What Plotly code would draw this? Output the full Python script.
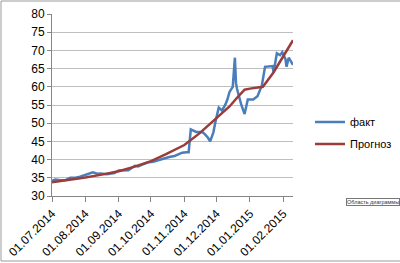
import plotly.graph_objects as go

fact_dates = [
    "2014-07-01", "2014-07-04", "2014-07-09", "2014-07-14", "2014-07-18", "2014-07-23",
    "2014-07-27", "2014-07-31", "2014-08-04", "2014-08-08", "2014-08-12", "2014-08-15",
    "2014-08-21", "2014-08-28", "2014-09-01", "2014-09-05", "2014-09-10", "2014-09-16",
    "2014-09-19", "2014-09-23", "2014-09-29", "2014-10-03", "2014-10-07", "2014-10-11",
    "2014-10-15", "2014-10-18", "2014-10-23", "2014-10-27", "2014-10-30", "2014-11-03",
    "2014-11-05", "2014-11-07", "2014-11-09", "2014-11-12", "2014-11-15", "2014-11-18",
    "2014-11-20", "2014-11-23", "2014-11-25", "2014-11-28", "2014-11-30", "2014-12-03",
    "2014-12-06", "2014-12-09", "2014-12-11", "2014-12-13", "2014-12-16", "2014-12-18",
    "2014-12-19", "2014-12-20", "2014-12-24", "2014-12-27", "2014-12-30", "2015-01-04",
    "2015-01-08", "2015-01-12", "2015-01-15", "2015-01-20", "2015-01-22", "2015-01-23",
    "2015-01-26", "2015-01-29", "2015-01-31", "2015-02-03", "2015-02-04", "2015-02-06",
    "2015-02-08", "2015-02-10",
]
fact_values = [
    34.2, 34.5, 34.3, 34.4, 35.0, 35.0,
    35.3, 35.7, 35.9, 36.5, 36.1, 36.2,
    36.0, 36.3, 37.0, 37.0, 37.1, 38.3,
    38.1, 38.6, 39.3, 39.4, 39.8, 40.1,
    40.4, 40.7, 41.0, 41.4, 41.9, 42.0,
    42.0, 48.3, 48.0, 47.6, 47.6, 47.5,
    47.0, 46.0, 45.0, 47.5, 50.5, 54.3,
    53.5, 55.0, 56.5, 58.6, 60.0, 68.0,
    61.0, 59.4, 55.0, 52.5, 56.5, 56.5,
    57.4, 60.3, 65.5, 65.5, 65.7, 64.0,
    69.2, 68.7, 69.5, 67.6, 65.5, 68.0,
    67.0, 66.0,
]

forecast_dates = [
    "2014-07-01", "2014-07-15", "2014-08-01", "2014-08-15", "2014-09-01", "2014-09-15",
    "2014-10-01", "2014-10-15", "2014-11-01", "2014-11-15", "2014-12-01", "2014-12-13",
    "2014-12-20", "2014-12-27", "2015-01-01", "2015-01-13", "2015-01-23", "2015-02-01",
    "2015-02-10",
]
forecast_values = [
    33.8, 34.3, 35.1, 35.8, 36.8, 38.0,
    39.6, 41.5, 44.0, 47.2, 51.3, 54.6,
    57.0, 59.2, 59.5, 60.0, 64.0, 68.6,
    72.8,
]

tick_dates = ["2014-07-01", "2014-08-01", "2014-09-01", "2014-10-01",
              "2014-11-01", "2014-12-01", "2015-01-01", "2015-02-01"]
tick_labels = ["01.07.2014", "01.08.2014", "01.09.2014", "01.10.2014",
               "01.11.2014", "01.12.2014", "01.01.2015", "01.02.2015"]

FONT = "Liberation Sans"

fig = go.Figure()
fig.add_trace(go.Scatter(x=fact_dates, y=fact_values, mode="lines", name="факт",
                         line=dict(color="#4A7EBB", width=2.5), legend="legend"))
fig.add_trace(go.Scatter(x=forecast_dates, y=forecast_values, mode="lines", name="Прогноз",
                         line=dict(color="#9B3C3A", width=2.5), legend="legend2"))

# plot area pixel geometry helpers (for paper coords)
L, R, T, B = 52, 293, 14, 196
W, H = R - L, B - T


def px(x):
    return (x - L) / W


def py(y):
    return (B - y) / H


legend_style = dict(xanchor="left", yanchor="middle", bgcolor="rgba(0,0,0,0)",
                    font=dict(family=FONT, size=11, color="#000000"), borderwidth=0)

fig.update_layout(
    width=400, height=263,
    margin=dict(l=L, r=400 - R, t=T, b=263 - B, autoexpand=False),
    paper_bgcolor="white", plot_bgcolor="white",
    font=dict(family=FONT, size=12, color="#000000"),
    showlegend=True,
    legend=dict(x=px(310), y=py(122), **legend_style),
    legend2=dict(x=px(310), y=py(144), **legend_style),
    xaxis=dict(
        type="date", range=["2014-07-01", "2015-02-10"], automargin=False,
        tickvals=tick_dates, ticktext=tick_labels, tickangle=-45,
        showgrid=False, zeroline=False,
        showline=True, linecolor="#868686", linewidth=1,
        ticks="outside", ticklen=5, tickcolor="#868686",
        tickfont=dict(family=FONT, size=12, color="#000000"),
    ),
    yaxis=dict(
        range=[30, 80], tickvals=[30, 35, 40, 45, 50, 55, 60, 65, 70, 75, 80],
        automargin=False,
        showgrid=True, gridcolor="#BFBFBF", gridwidth=1, zeroline=False,
        showline=True, linecolor="#868686", linewidth=1,
        ticks="outside", ticklen=4, tickcolor="#868686",
        tickfont=dict(family=FONT, size=12, color="#000000"),
    ),
    shapes=[
        dict(type="rect", xref="paper", yref="paper",
             x0=px(1), x1=px(410), y0=py(261), y1=py(1),
             line=dict(color="#9A9A9A", width=1), fillcolor="rgba(0,0,0,0)", layer="below"),
    ],
    annotations=[
        dict(text="Область диаграммы", xref="paper", yref="paper",
             x=px(346), y=py(198), xanchor="left", yanchor="top", showarrow=False,
             font=dict(family=FONT, size=5.5, color="#333333"),
             bgcolor="white", bordercolor="#777777", borderwidth=1, borderpad=0),
    ],
)

fig.write_html("out.html")
